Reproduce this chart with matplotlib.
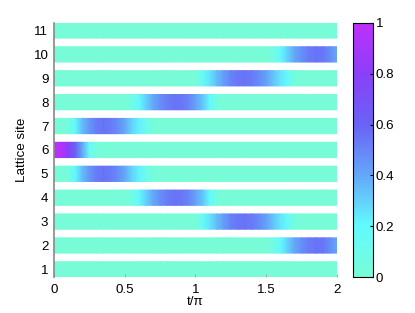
import numpy as np
import matplotlib
matplotlib.use("Agg")
import matplotlib.pyplot as plt
from matplotlib.colors import LinearSegmentedColormap

plt.rcParams['font.family'] = ['Liberation Sans', 'DejaVu Sans']
plt.rcParams['font.size'] = 9.6

# time axis (t/pi), sampled every 0.05
t = [0.0, 0.05, 0.1, 0.15, 0.2, 0.25, 0.3, 0.35, 0.4, 0.45,
     0.5, 0.55, 0.6, 0.65, 0.7, 0.75, 0.8, 0.85, 0.9, 0.95,
     1.0, 1.05, 1.1, 1.15, 1.2, 1.25, 1.3, 1.35, 1.4, 1.45,
     1.5, 1.55, 1.6, 1.65, 1.7, 1.75, 1.8, 1.85, 1.9, 1.95, 2.0]

# occupation vs distance from the central site (site 6)
d0 = [1.0, 0.95, 0.8, 0.6, 0.4, 0.15, 0.02, 0, 0, 0,
      0, 0, 0, 0, 0, 0, 0, 0, 0, 0,
      0, 0, 0, 0, 0, 0, 0, 0, 0, 0,
      0, 0, 0, 0, 0, 0, 0, 0, 0, 0, 0]
d1 = [0, 0, 0.03, 0.2, 0.35, 0.45, 0.52, 0.55, 0.53, 0.48,
      0.4, 0.3, 0.22, 0.1, 0.02, 0, 0, 0, 0, 0,
      0, 0, 0, 0, 0, 0, 0, 0, 0, 0,
      0, 0, 0, 0, 0, 0, 0, 0, 0, 0, 0]
d2 = [0, 0, 0, 0, 0, 0, 0, 0, 0, 0,
      0, 0.05, 0.2, 0.3, 0.4, 0.47, 0.52, 0.55, 0.54, 0.5,
      0.42, 0.33, 0.2, 0.03, 0, 0, 0, 0, 0, 0,
      0, 0, 0, 0, 0, 0, 0, 0, 0, 0, 0]
d3 = [0, 0, 0, 0, 0, 0, 0, 0, 0, 0,
      0, 0, 0, 0, 0, 0, 0, 0, 0, 0,
      0, 0.15, 0.25, 0.35, 0.43, 0.5, 0.54, 0.55, 0.53, 0.48,
      0.42, 0.33, 0.25, 0.18, 0.03, 0, 0, 0, 0, 0, 0]
d4 = [0, 0, 0, 0, 0, 0, 0, 0, 0, 0,
      0, 0, 0, 0, 0, 0, 0, 0, 0, 0,
      0, 0, 0, 0, 0, 0, 0, 0, 0, 0,
      0, 0.05, 0.2, 0.3, 0.4, 0.47, 0.52, 0.55, 0.54, 0.48, 0.4]
d5 = [0] * 41

sites = [1, 2, 3, 4, 5, 6, 7, 8, 9, 10, 11]
profiles = [d5, d4, d3, d2, d1, d0, d1, d2, d3, d4, d5]

xticks = [0, 0.5, 1, 1.5, 2]
xticklabels = ['0', '0.5', '1', '1.5', '2']
cticks = [0, 0.2, 0.4, 0.6, 0.8, 1]
cticklabels = ['0', '0.2', '0.4', '0.6', '0.8', '1']

cmap = LinearSegmentedColormap.from_list('cm', [
    (0.0, '#78fcd8'), (0.2, '#62fafe'), (0.4, '#64a8f8'),
    (0.6, '#6a62f6'), (0.8, '#8a40f8'), (1.0, '#be30fc')])

fig = plt.figure(figsize=(4.15, 3.13), dpi=100)
ax = fig.add_axes([0.130, 0.115, 0.682, 0.812])
cax = fig.add_axes([0.851, 0.115, 0.048, 0.812])

h = 0.32
mesh = None
for s, p in zip(sites, profiles):
    X, Y = np.meshgrid(t, [s - h, s + h])
    Z = np.vstack([p, p])
    mesh = ax.pcolormesh(X, Y, Z, cmap=cmap, vmin=0, vmax=1, shading='gouraud')

ax.set_xlim(0, 2)
ax.set_ylim(0.68, 11.32)
ax.set_yticks(sites)
ax.set_xticks(xticks)
ax.set_xticklabels(xticklabels)
for sp in ['top', 'right', 'bottom']:
    ax.spines[sp].set_visible(False)
ax.spines['left'].set_color('#888888')
ax.spines['left'].set_linewidth(1.2)
ax.tick_params(axis='y', length=0, pad=4)
ax.tick_params(axis='x', length=2, direction='in', pad=5, color='#aaaaaa')
ax.set_xlabel('t/π', labelpad=0)
ax.set_ylabel('Lattice site', labelpad=4)

cb = fig.colorbar(mesh, cax=cax, ticks=cticks)
cb.ax.set_yticklabels(cticklabels)
cb.ax.tick_params(length=2, direction='in', pad=2)
cb.outline.set_linewidth(0.8)

fig.savefig('out.png', dpi=100)
